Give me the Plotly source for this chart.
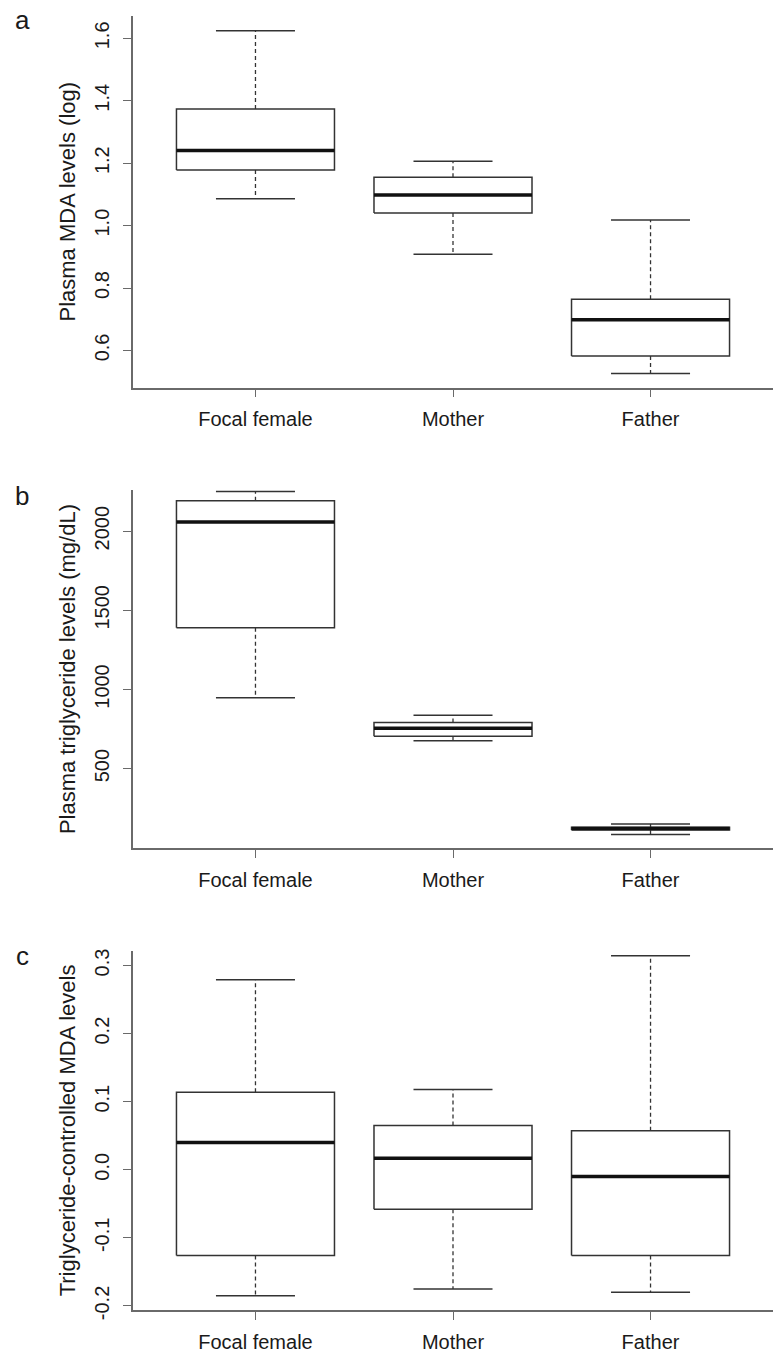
import plotly.graph_objects as go

# ---------------- data ----------------
categories = ["Focal female", "Mother", "Father"]

# panel a: Plasma MDA levels (log)
a_min = [1.086, 0.908, 0.526]
a_q1 = [1.178, 1.040, 0.582]
a_med = [1.241, 1.098, 0.698]
a_q3 = [1.374, 1.155, 0.764]
a_max = [1.624, 1.206, 1.018]
a_ticks = [0.6, 0.8, 1.0, 1.2, 1.4, 1.6]
a_ticklabels = ["0.6", "0.8", "1.0", "1.2", "1.4", "1.6"]

# panel b: Plasma triglyceride levels (mg/dL)
b_min = [948, 677, 85]
b_q1 = [1390, 704, 112]
b_med = [2058, 756, 122]
b_q3 = [2192, 792, 130]
b_max = [2250, 838, 151]
b_ticks = [500, 1000, 1500, 2000]
b_ticklabels = ["500", "1000", "1500", "2000"]

# panel c: Triglyceride-controlled MDA levels
c_min = [-0.185, -0.175, -0.180]
c_q1 = [-0.126, -0.058, -0.126]
c_med = [0.040, 0.017, -0.010]
c_q3 = [0.114, 0.065, 0.0575]
c_max = [0.279, 0.118, 0.3145]
c_ticks = [-0.2, -0.1, 0.0, 0.1, 0.2, 0.3]
c_ticklabels = ["-0.2", "-0.1", "0.0", "0.1", "0.2", "0.3"]

titles = ["Plasma MDA levels (log)", "Plasma triglyceride levels (mg/dL)",
          "Triglyceride-controlled MDA levels"]
letters = ["a", "b", "c"]

# ---------------- style ----------------
W, H = 773, 1362
FONT = "Liberation Sans, Arial, sans-serif"
TXT = "#1a1a1a"
AX = "#6a6a6a"
BOXC = "#333333"
BOX_HALF = 0.4
CAP_HALF = 0.2
ML = 133

panels = [
    dict(mn=a_min, q1=a_q1, med=a_med, q3=a_q3, mx=a_max, ticks=a_ticks, tl=a_ticklabels,
         rng=[0.481, 1.672], top=14, bot=389, letter_y=18),
    dict(mn=b_min, q1=b_q1, med=b_med, q3=b_q3, mx=b_max, ticks=b_ticks, tl=b_ticklabels,
         rng=[-4, 2262], top=492, bot=854, letter_y=498),
    dict(mn=c_min, q1=c_q1, med=c_med, q3=c_q3, mx=c_max, ticks=c_ticks, tl=c_ticklabels,
         rng=[-0.2065, 0.322], top=957, bot=1320, letter_y=962),
]

fig = go.Figure()
xpos = [1, 2, 3]

for pi, p in enumerate(panels):
    xa = "x" if pi == 0 else f"x{pi+1}"
    ya = "y" if pi == 0 else f"y{pi+1}"
    for j, x in enumerate(xpos):
        # whiskers (dashed)
        fig.add_trace(go.Scatter(
            x=[x, x, None, x, x], y=[p["q3"][j], p["mx"][j], None, p["q1"][j], p["mn"][j]],
            mode="lines", line=dict(color=BOXC, width=1.3, dash="4px,3px"),
            xaxis=xa, yaxis=ya, hoverinfo="skip"))
        # caps
        fig.add_trace(go.Scatter(
            x=[x - CAP_HALF, x + CAP_HALF, None, x - CAP_HALF, x + CAP_HALF],
            y=[p["mx"][j], p["mx"][j], None, p["mn"][j], p["mn"][j]],
            mode="lines", line=dict(color=BOXC, width=1.5),
            xaxis=xa, yaxis=ya, hoverinfo="skip"))
        # box
        fig.add_trace(go.Scatter(
            x=[x - BOX_HALF, x + BOX_HALF, x + BOX_HALF, x - BOX_HALF, x - BOX_HALF],
            y=[p["q1"][j], p["q1"][j], p["q3"][j], p["q3"][j], p["q1"][j]],
            mode="lines", line=dict(color=BOXC, width=1.5), fill="toself",
            fillcolor="white", xaxis=xa, yaxis=ya, hoverinfo="skip"))
        # median
        fig.add_trace(go.Scatter(
            x=[x - BOX_HALF, x + BOX_HALF], y=[p["med"][j], p["med"][j]],
            mode="lines", line=dict(color="#111111", width=3.5),
            xaxis=xa, yaxis=ya, hoverinfo="skip"))

    dom = [1 - p["bot"] / H, 1 - p["top"] / H]
    xkey = "xaxis" if pi == 0 else f"xaxis{pi+1}"
    ykey = "yaxis" if pi == 0 else f"yaxis{pi+1}"
    fig.layout[xkey] = dict(
        domain=[0, 1], anchor=ya, range=[0.38, 3.62], tickmode="array",
        tickvals=xpos, ticktext=categories, showline=True, linecolor=AX, linewidth=1.5,
        ticks="outside", ticklen=8, tickwidth=1.3, tickcolor=AX, showgrid=False,
        zeroline=False, fixedrange=True, ticklabelstandoff=5,
        tickfont=dict(family=FONT, size=20, color=TXT))
    fig.layout[ykey] = dict(
        domain=dom, anchor=xa, range=p["rng"], tickmode="array",
        tickvals=p["ticks"], ticktext=p["tl"], showline=True, linecolor=AX, linewidth=1.5,
        ticks="outside", ticklen=8, tickwidth=1.3, tickcolor=AX, showgrid=False,
        zeroline=False, tickangle=-90, fixedrange=True, ticklabelstandoff=6,
        tickfont=dict(family=FONT, size=20, color=TXT),
        title=dict(text=titles[pi], font=dict(family=FONT, size=22, color=TXT), standoff=10))
    fig.add_annotation(text=letters[pi], xref="paper", yref="paper",
                       x=(22 - ML) / (W - ML), y=1 - p["letter_y"] / H, showarrow=False,
                       font=dict(family=FONT, size=26, color=TXT),
                       xanchor="center", yanchor="middle")

fig.update_layout(
    width=W, height=H, showlegend=False, plot_bgcolor="white", paper_bgcolor="white",
    margin=dict(l=ML, r=0, t=0, b=0), hovermode=False)

fig.write_html("out.html")
